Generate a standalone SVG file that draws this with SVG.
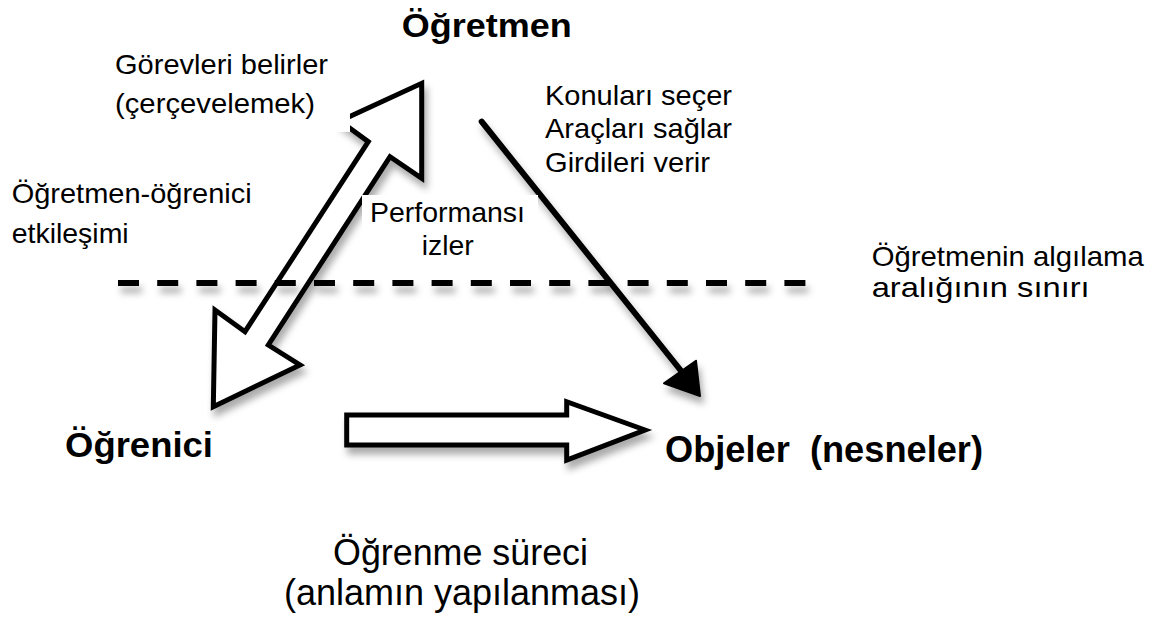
<svg xmlns="http://www.w3.org/2000/svg" width="1152" height="628" viewBox="0 0 1152 628">
<defs>
<filter id="sh" filterUnits="userSpaceOnUse" x="0" y="0" width="1152" height="628">
<feDropShadow dx="3" dy="7" stdDeviation="3.5" flood-color="#000" flood-opacity="0.33"/>
</filter>
</defs>
<style>
text{font-family:"Liberation Sans",Arial,sans-serif;fill:#000}
.t{font-size:28px}
.b{font-weight:bold}
.big{font-size:36px}
.hollow{fill:#fff;stroke:#000;stroke-width:5;stroke-linejoin:miter}
</style>
<rect width="1152" height="628" fill="#fff"/>
<g id="connectors">
<polygon id="double-arrow" class="hollow" filter="url(#sh)" points="421.7,83.3 421.7,178.3 390,156.7 268.3,345 300,365 213.3,406.7 215,310 245,331.7 368.3,141.7 340,121"/>
<line id="boundary" x1="118" y1="283" x2="808" y2="283" stroke="#000" stroke-width="6" stroke-dasharray="21 18.2" filter="url(#sh)"/>
<g id="single-arrow" filter="url(#sh)">
<line x1="481.7" y1="121.7" x2="682" y2="372" stroke="#000" stroke-width="6" stroke-linecap="round"/>
<polygon points="700,396 664,383.3 696,360.7" fill="#000" stroke="#000" stroke-width="2" stroke-linejoin="round"/>
</g>
<polygon id="process-arrow" class="hollow" filter="url(#sh)" points="346.7,415 566.7,415 566.7,401.7 645,430 566.7,460 566.7,445 346.7,445"/>
</g>
<rect x="100" y="50" width="250" height="82" fill="#fff"/>
<rect x="362" y="195" width="176" height="83" fill="#fff"/>
<g id="ogretmen"><text class="b" x="401.7" y="37" font-size="34" textLength="170" lengthAdjust="spacingAndGlyphs">Öğretmen</text></g>
<g id="gorevler">
<text class="t" x="115" y="74" textLength="213" lengthAdjust="spacingAndGlyphs">Görevleri belirler</text>
<text class="t" x="115" y="113" textLength="200" lengthAdjust="spacingAndGlyphs">(çerçevelemek)</text>
</g>
<g id="etkilesim">
<text class="t" x="11.7" y="203" textLength="240" lengthAdjust="spacingAndGlyphs">Öğretmen-öğrenici</text>
<text class="t" x="11.7" y="243" textLength="117" lengthAdjust="spacingAndGlyphs">etkileşimi</text>
</g>
<g id="konular">
<text class="t" x="545" y="105" textLength="187" lengthAdjust="spacingAndGlyphs">Konuları seçer</text>
<text class="t" x="545" y="138" textLength="187" lengthAdjust="spacingAndGlyphs">Araçları sağlar</text>
<text class="t" x="545" y="172" textLength="165" lengthAdjust="spacingAndGlyphs">Girdileri verir</text>
</g>
<g id="performans">
<text class="t" x="370" y="222" textLength="155" lengthAdjust="spacingAndGlyphs">Performansı</text>
<text class="t" x="421.7" y="255" textLength="52" lengthAdjust="spacingAndGlyphs">izler</text>
</g>
<g id="sinir">
<text class="t" x="871.7" y="266" textLength="272" lengthAdjust="spacingAndGlyphs">Öğretmenin algılama</text>
<text class="t" x="871.7" y="297" textLength="218" lengthAdjust="spacingAndGlyphs">aralığının sınırı</text>
</g>
<g id="ogrenici"><text class="b" x="65" y="457" font-size="35" textLength="148" lengthAdjust="spacingAndGlyphs">Öğrenici</text></g>
<g id="objeler"><text class="b big" x="665" y="462" textLength="318" lengthAdjust="spacingAndGlyphs" xml:space="preserve">Objeler  (nesneler)</text></g>
<g id="surec">
<text class="big" x="333" y="565" textLength="255" lengthAdjust="spacingAndGlyphs">Öğrenme süreci</text>
<text class="big" x="462" y="605" text-anchor="middle">(anlamın yapılanması)</text>
</g>
</svg>
